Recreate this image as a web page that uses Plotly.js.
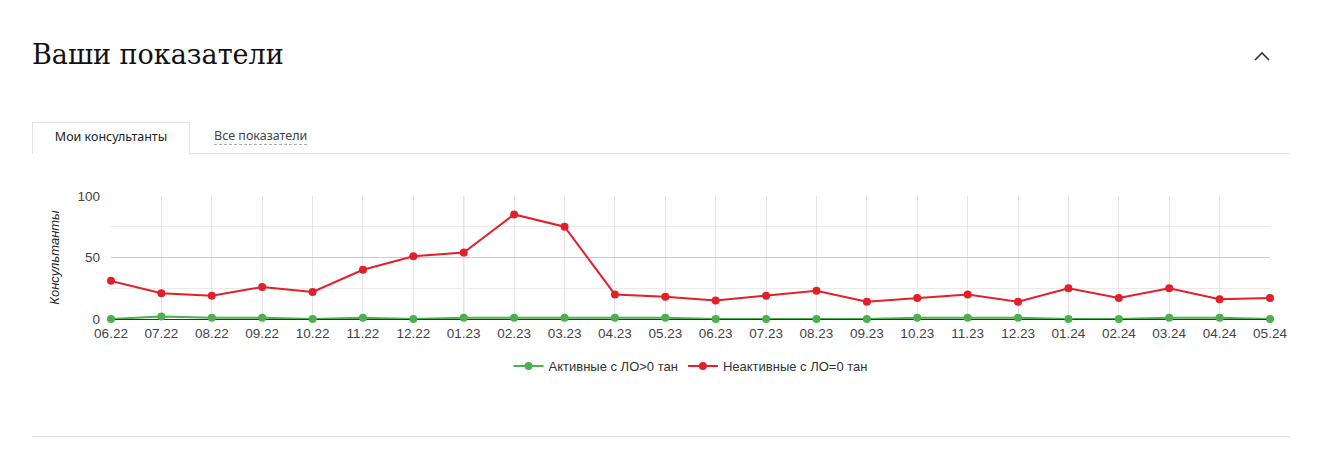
<!DOCTYPE html>
<html><head><meta charset="utf-8">
<script src="https://cdn.plot.ly/plotly-3.0.1.min.js"></script>
<style>
html,body{margin:0;padding:0;background:#fff;width:1333px;height:467px;overflow:hidden;font-family:"Noto Sans",sans-serif;}
#title{position:absolute;left:32px;top:39px;font-family:"DejaVu Serif",serif;font-size:27px;color:#111;}
#chev{position:absolute;left:1253px;top:50px;width:18px;height:12px;}
#tabs{position:absolute;left:32px;top:122px;width:1258px;height:31px;border-bottom:1px solid #e3e3e3;}
#tab1{position:absolute;left:0;top:0;width:158px;box-sizing:border-box;height:32px;border:1px solid #e3e3e3;border-bottom:1px solid #fff;background:#fff;font-size:12.5px;color:#222;text-align:center;line-height:28px;}
#tab2{position:absolute;left:182px;top:6px;font-size:12.5px;color:#444;border-bottom:1px dashed #aaa;line-height:16px;}
#bottomline{position:absolute;left:32px;top:436px;width:1258px;height:1px;background:#ddd;}
#chart{position:absolute;left:0;top:180px;width:1333px;height:240px;}
</style></head><body>
<div id="title">Ваши показатели</div>
<svg id="chev" viewBox="0 0 18 12"><polyline points="2,10 9,3 16,10" fill="none" stroke="#333" stroke-width="1.6"/></svg>
<div id="tabs"><div id="tab1">Мои консультанты</div><div id="tab2">Все показатели</div></div>
<div id="chart"></div>
<div id="bottomline"></div>
<script>
const months = ["06.22","07.22","08.22","09.22","10.22","11.22","12.22","01.23","02.23","03.23","04.23","05.23","06.23","07.23","08.23","09.23","10.23","11.23","12.23","01.24","02.24","03.24","04.24","05.24"];
const activeVals = [0,2,1,1,0,1,0,1,1,1,1,1,0,0,0,0,1,1,1,0,0,1,1,0];
const inactiveVals = [31,21,19,26,22,40,51,54,85,75,20,18,15,19,23,14,17,20,14,25,17,25,16,17];
const activeName = "Активные с ЛО>0 тан";
const inactiveName = "Неактивные с ЛО=0 тан";
const yTitle = "Консультанты";

const yearStartIdx = months.map((m,i) => m.startsWith("01.") ? i : -1).filter(i => i >= 0);
const shapes = yearStartIdx.map(i => ({type:"line", xref:"x", yref:"paper", x0:i, x1:i, y0:0, y1:1, line:{color:"#c4c4c4", width:1}, layer:"between"}));

const traces = [
  {x:months, y:activeVals, name:activeName, type:"scatter", mode:"lines+markers", line:{color:"#4caf50", width:2}, marker:{color:"#4caf50", size:8}, cliponaxis:false},
  {x:months, y:inactiveVals, name:inactiveName, type:"scatter", mode:"lines+markers", line:{color:"#e3202a", width:2}, marker:{color:"#e3202a", size:8}, cliponaxis:false}
];
const layout = {
  width:1333, height:240,
  margin:{l:111, r:63, t:16, b:101},
  paper_bgcolor:"#fff", plot_bgcolor:"#fff",
  font:{family:"Liberation Sans, Arial, sans-serif", size:13, color:"#444"},
  showlegend:true,
  legend:{orientation:"h", x:0.5, xanchor:"center", y:-0.26, yanchor:"top", font:{size:13, color:"#333"}, traceorder:"normal"},
  xaxis:{type:"category", range:[0, months.length-1], showgrid:true, gridcolor:"#e6e6e6", ticks:"", ticklabelstandoff:4, tickfont:{size:13.5, color:"#444"}, showline:false, zeroline:false, fixedrange:true, automargin:false},
  yaxis:{range:[0,100], tickvals:[0,50,100], showgrid:true, gridcolor:"#cccccc", zeroline:true, zerolinecolor:"#333", zerolinewidth:1, ticks:"", ticklabelstandoff:10, tickfont:{size:13.5, color:"#444"},
    minor:{tickvals:[25,75], showgrid:true, gridcolor:"#eaeaea", ticks:""}, automargin:false,
    title:{text:yTitle, font:{size:13, color:"#222", style:"italic"}, standoff:14}},
  shapes:shapes,
  hovermode:false
};
Plotly.newPlot("chart", traces, layout, {displayModeBar:false, staticPlot:true});
</script>
</body></html>
